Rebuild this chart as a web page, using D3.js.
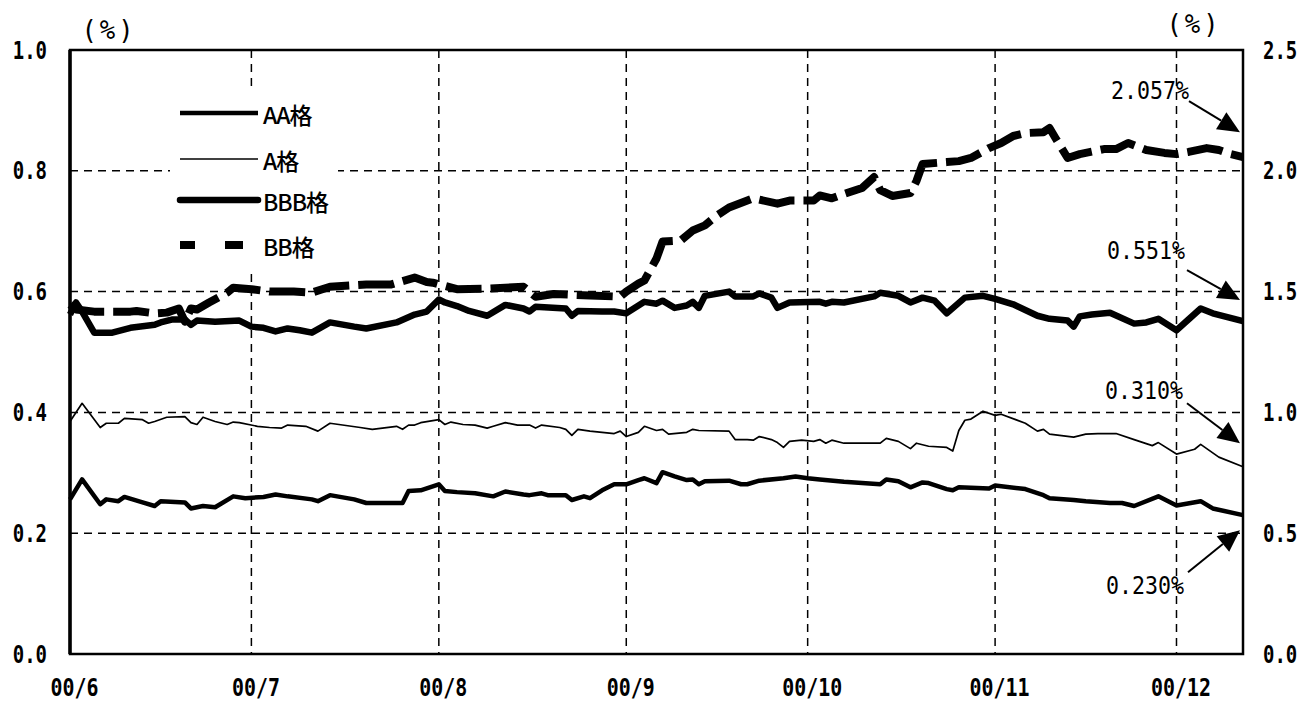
<!DOCTYPE html>
<html>
<head>
<meta charset="utf-8">
<script src="https://cdn.jsdelivr.net/npm/d3@7"></script>
<style>
  body { margin: 0; background: #fff; }
  svg { display: block; }
</style>
</head>
<body>
<svg></svg>
<script>
var seriesNames = ["AA格", "A格", "BBB格", "BB格"];
var leftTicks = [0, 0.2, 0.4, 0.6, 0.8, 1.0];
var rightTicks = [0, 0.5, 1.0, 1.5, 2.0, 2.5];
var dateRange = ["06-01", "12-12"];

// AA, A, BBB on left axis; BB on right axis
var aaSeries = [["06-01",0.256],["06-03",0.289],["06-06",0.248],["06-07",0.256],["06-09",0.253],["06-10",0.260],["06-13",0.251],["06-15",0.245],["06-16",0.253],["06-20",0.251],["06-21",0.241],["06-23",0.245],["06-25",0.243],["06-28",0.261],["06-30",0.258],["07-03",0.260],["07-05",0.264],["07-07",0.261],["07-11",0.256],["07-12",0.253],["07-14",0.263],["07-18",0.256],["07-20",0.250],["07-26",0.250],["07-27",0.270],["07-29",0.271],["08-01",0.281],["08-02",0.270],["08-04",0.268],["08-07",0.266],["08-10",0.261],["08-12",0.269],["08-15",0.264],["08-16",0.263],["08-18",0.266],["08-19",0.263],["08-22",0.263],["08-23",0.255],["08-25",0.261],["08-26",0.258],["08-28",0.271],["08-30",0.281],["09-01",0.281],["09-03",0.288],["09-04",0.291],["09-06",0.283],["09-07",0.301],["09-09",0.294],["09-11",0.288],["09-12",0.289],["09-13",0.281],["09-14",0.286],["09-18",0.287],["09-20",0.281],["09-21",0.281],["09-23",0.287],["09-27",0.291],["09-29",0.294],["10-01",0.291],["10-03",0.289],["10-07",0.285],["10-13",0.281],["10-14",0.289],["10-16",0.286],["10-18",0.276],["10-20",0.284],["10-21",0.283],["10-24",0.273],["10-25",0.271],["10-26",0.276],["10-31",0.274],["11-01",0.279],["11-06",0.273],["11-09",0.263],["11-10",0.258],["11-14",0.255],["11-16",0.253],["11-20",0.250],["11-22",0.250],["11-24",0.245],["11-28",0.261],["12-01",0.246],["12-05",0.253],["12-07",0.241],["12-12",0.230]];

var aSeries = [["06-01",0.385],["06-03",0.415],["06-06",0.375],["06-07",0.382],["06-09",0.382],["06-10",0.390],["06-13",0.388],["06-14",0.382],["06-15",0.385],["06-17",0.392],["06-20",0.393],["06-21",0.383],["06-22",0.380],["06-23",0.392],["06-25",0.385],["06-27",0.380],["06-28",0.384],["06-29",0.383],["07-02",0.377],["07-04",0.375],["07-06",0.374],["07-07",0.379],["07-10",0.377],["07-12",0.369],["07-14",0.382],["07-19",0.375],["07-21",0.372],["07-25",0.377],["07-26",0.372],["07-27",0.379],["07-28",0.379],["07-29",0.383],["08-01",0.388],["08-02",0.380],["08-03",0.384],["08-05",0.380],["08-07",0.379],["08-09",0.374],["08-10",0.377],["08-12",0.383],["08-14",0.379],["08-16",0.379],["08-17",0.374],["08-18",0.379],["08-21",0.375],["08-22",0.372],["08-23",0.362],["08-24",0.372],["08-26",0.369],["08-28",0.367],["08-30",0.365],["08-31",0.369],["09-01",0.360],["09-03",0.367],["09-04",0.377],["09-06",0.370],["09-07",0.372],["09-08",0.364],["09-11",0.367],["09-12",0.372],["09-13",0.370],["09-18",0.369],["09-19",0.355],["09-21",0.355],["09-22",0.354],["09-23",0.360],["09-25",0.355],["09-26",0.350],["09-27",0.342],["09-28",0.352],["09-30",0.354],["10-02",0.352],["10-03",0.355],["10-04",0.349],["10-05",0.354],["10-07",0.349],["10-10",0.349],["10-13",0.349],["10-14",0.357],["10-16",0.352],["10-18",0.340],["10-19",0.349],["10-21",0.344],["10-24",0.342],["10-25",0.336],["10-26",0.370],["10-27",0.387],["10-28",0.389],["10-30",0.402],["11-01",0.395],["11-02",0.397],["11-06",0.382],["11-08",0.369],["11-09",0.372],["11-10",0.364],["11-14",0.359],["11-16",0.364],["11-18",0.365],["11-21",0.365],["11-24",0.355],["11-27",0.345],["11-28",0.350],["12-01",0.331],["12-04",0.339],["12-05",0.347],["12-08",0.326],["12-12",0.310]];

var bbbSeries = [["06-01",0.562],["06-02",0.582],["06-03",0.567],["06-05",0.532],["06-08",0.532],["06-11",0.540],["06-15",0.545],["06-16",0.549],["06-18",0.554],["06-20",0.554],["06-21",0.545],["06-22",0.552],["06-25",0.550],["06-29",0.552],["07-01",0.542],["07-03",0.540],["07-05",0.534],["07-07",0.539],["07-09",0.536],["07-11",0.532],["07-14",0.549],["07-18",0.542],["07-20",0.539],["07-25",0.549],["07-28",0.562],["07-30",0.567],["08-01",0.587],["08-02",0.582],["08-04",0.576],["08-06",0.568],["08-09",0.560],["08-12",0.578],["08-15",0.572],["08-16",0.567],["08-17",0.575],["08-22",0.572],["08-23",0.560],["08-24",0.568],["08-28",0.567],["08-30",0.567],["09-01",0.564],["09-04",0.583],["09-06",0.580],["09-07",0.585],["09-09",0.573],["09-11",0.577],["09-12",0.583],["09-13",0.573],["09-14",0.593],["09-18",0.600],["09-19",0.592],["09-22",0.592],["09-23",0.597],["09-25",0.590],["09-26",0.573],["09-28",0.582],["10-03",0.583],["10-04",0.580],["10-05",0.583],["10-07",0.582],["10-12",0.592],["10-13",0.598],["10-16",0.593],["10-18",0.582],["10-20",0.590],["10-22",0.585],["10-24",0.564],["10-27",0.590],["10-30",0.593],["11-01",0.588],["11-04",0.579],["11-08",0.560],["11-10",0.555],["11-13",0.552],["11-14",0.542],["11-15",0.559],["11-17",0.562],["11-20",0.565],["11-24",0.547],["11-26",0.549],["11-28",0.555],["12-01",0.536],["12-05",0.572],["12-07",0.564],["12-12",0.551]];

var bbSeries = [["06-01",1.446],["06-02",1.426],["06-05",1.417],["06-11",1.417],["06-12",1.420],["06-15",1.410],["06-17",1.413],["06-19",1.430],["06-20",1.376],["06-21",1.430],["06-22",1.426],["06-24",1.455],["06-27",1.496],["06-28",1.516],["07-01",1.510],["07-04",1.500],["07-08",1.500],["07-11",1.496],["07-14",1.520],["07-20",1.529],["07-24",1.529],["07-28",1.558],["07-30",1.540],["07-31",1.537],["08-04",1.510],["08-09",1.512],["08-15",1.520],["08-17",1.479],["08-20",1.490],["08-26",1.484],["08-31",1.479],["09-01",1.500],["09-03",1.533],["09-04",1.546],["09-06",1.637],["09-07",1.707],["09-10",1.711],["09-12",1.753],["09-14",1.774],["09-16",1.815],["09-18",1.848],["09-22",1.886],["09-26",1.864],["09-28",1.877],["10-02",1.877],["10-03",1.898],["10-05",1.886],["10-07",1.904],["10-10",1.929],["10-12",1.974],["10-13",1.920],["10-15",1.896],["10-18",1.908],["10-19",1.958],["10-20",2.028],["10-24",2.036],["10-26",2.040],["10-28",2.053],["10-31",2.094],["11-02",2.115],["11-04",2.144],["11-06",2.156],["11-09",2.160],["11-10",2.177],["11-11",2.135],["11-13",2.053],["11-15",2.069],["11-19",2.090],["11-21",2.090],["11-23",2.115],["11-26",2.086],["11-29",2.074],["12-01",2.069],["12-03",2.078],["12-06",2.094],["12-08",2.086],["12-10",2.069],["12-12",2.057]];

var annoLabels = ["2.057%", "0.551%", "0.310%", "0.230%"];
var annoTips = [0.864, 0.586, 0.349, 0.205];   // left-axis value where each arrow points

var parseDay = d3.timeParse("%Y-%m-%d");
function toDate(s) { return parseDay("2000-" + s); }

var monoFont = "'DejaVu Sans Mono', 'Liberation Mono', monospace";

// narrow the glyphs like the original condensed gothic face
function squeeze(sel, sx) {
  sel.each(function() {
    var t = d3.select(this);
    var x = +t.attr("x") || 0;
    var y = +t.attr("y") || 0;
    t.attr("x", 0).attr("y", 0)
      .attr("transform", "translate(" + x + "," + y + ") scale(" + sx + ",1)");
  });
}

function styleText(sel, size) {
  sel.attr("font-family", monoFont)
    .attr("font-size", size)
    .attr("font-weight", "bold")
    .attr("fill", "#000");
}

function drawChart() {
  var svg_width = 1306;
  var svg_height = 704;
  var margin = { top: 50, right: 63, bottom: 50, left: 70 };
  var width = svg_width - margin.left - margin.right;
  var height = svg_height - margin.top - margin.bottom;

  var svg = d3.select("svg")
    .attr("width", svg_width)
    .attr("height", svg_height);

  svg.append("rect").attr("width", svg_width).attr("height", svg_height).attr("fill", "#fff");

  var group = svg.append("g")
    .attr("transform", "translate(" + margin.left + "," + margin.top + ")");

  var x = d3.scaleTime()
    .domain(dateRange.map(toDate))
    .range([0, width]);
  var y = d3.scaleLinear().domain([0, 1]).range([height, 0]);
  var yR = d3.scaleLinear().domain([0, 2.5]).range([height, 0]);

  var months = x.ticks(d3.timeMonth.every(1));

  // gridlines
  group.append("g").selectAll("line")
    .data(leftTicks.filter(function(d) { return d > 0 && d < 1; }))
    .join("line")
    .attr("x1", 0).attr("x2", width)
    .attr("y1", function(d) { return y(d); })
    .attr("y2", function(d) { return y(d); })
    .attr("stroke", "#000").attr("stroke-width", 1.5)
    .attr("stroke-dasharray", "8,6");

  group.append("g").selectAll("line")
    .data(months.slice(1))
    .join("line")
    .attr("x1", function(d) { return x(d); })
    .attr("x2", function(d) { return x(d); })
    .attr("y1", 0).attr("y2", height)
    .attr("stroke", "#000").attr("stroke-width", 1.5)
    .attr("stroke-dasharray", "8,6");

  // legend box hides the grid behind it
  group.append("rect")
    .attr("x", 100).attr("y", 38)
    .attr("width", 168).attr("height", 180)
    .attr("fill", "#fff");

  var line = d3.line()
    .x(function(d) { return x(toDate(d[0])); })
    .y(function(d) { return y(d[1]); });

  var lineR = d3.line()
    .x(function(d) { return x(toDate(d[0])); })
    .y(function(d) { return yR(d[1]); });

  var styles = [
    { w: 4.5, dash: null },
    { w: 1.7, dash: null },
    { w: 6.5, dash: null },
    { w: 8, dash: "36,9" }
  ];

  var allSeries = [aaSeries, aSeries, bbbSeries];
  allSeries.forEach(function(s, i) {
    group.append("path")
      .datum(s)
      .attr("fill", "none")
      .attr("stroke", "#000")
      .attr("stroke-width", styles[i].w)
      .attr("stroke-linejoin", "round")
      .attr("d", line);
  });

  group.append("path")
    .datum(bbSeries)
    .attr("fill", "none")
    .attr("stroke", "#000")
    .attr("stroke-width", styles[3].w)
    .attr("stroke-linejoin", "round")
    .attr("stroke-dasharray", styles[3].dash)
    .attr("d", lineR);

  // frame
  group.append("rect")
    .attr("width", width).attr("height", height)
    .attr("fill", "none").attr("stroke", "#000").attr("stroke-width", 2.5);
  group.append("line")
    .attr("x1", 0).attr("x2", 0).attr("y1", 0).attr("y2", height)
    .attr("stroke", "#000").attr("stroke-width", 3.5);

  // axes
  var left = group.append("g")
    .call(d3.axisLeft(y).tickValues(leftTicks).tickFormat(d3.format(".1f")).tickSize(0).tickPadding(23));
  left.select(".domain").remove();
  styleText(left.selectAll("text"), 25);
  squeeze(left.selectAll("text"), 0.76);

  var right = group.append("g")
    .attr("transform", "translate(" + width + ",0)")
    .call(d3.axisRight(yR).tickValues(rightTicks).tickFormat(d3.format(".1f")).tickSize(0).tickPadding(20));
  right.select(".domain").remove();
  styleText(right.selectAll("text"), 25);
  squeeze(right.selectAll("text"), 0.76);

  var bottom = group.append("g")
    .attr("transform", "translate(0," + height + ")")
    .call(d3.axisBottom(x).tickValues(months).tickFormat(d3.timeFormat("%y/%-m")).tickSize(0).tickPadding(25));
  bottom.select(".domain").remove();
  styleText(bottom.selectAll("text"), 24);
  bottom.selectAll("text").attr("x", 4);
  squeeze(bottom.selectAll("text"), 0.83);

  // unit labels
  var units = group.append("g");
  units.append("text").attr("x", 39).attr("y", -20).text("(%)");
  units.append("text").attr("x", width - 49).attr("y", -26).text("(%)");
  styleText(units.selectAll("text"), 27);
  units.selectAll("text")
    .attr("font-weight", "normal")
    .attr("letter-spacing", 3)
    .attr("text-anchor", "middle").attr("dominant-baseline", "central");
  squeeze(units.selectAll("text"), 0.95);

  // legend
  var legend = group.append("g").attr("transform", "translate(110,63)");
  seriesNames.forEach(function(name, i) {
    var ly = [0, 46, 87, 132][i];
    legend.append("line")
      .attr("x1", 0).attr("x2", 78)
      .attr("y1", ly).attr("y2", ly)
      .attr("stroke", "#000")
      .attr("stroke-width", styles[i].w)
      .attr("stroke-linecap", i === 2 ? "round" : "butt")
      .attr("stroke-dasharray", i === 3 ? "15,30,18" : null);
    legend.append("text")
      .attr("x", 83).attr("y", ly + 1)
      .attr("dominant-baseline", "central")
      .attr("font-family", "'Noto Sans CJK JP', sans-serif")
      .attr("font-size", 23)
      .attr("font-weight", 500)
      .attr("letter-spacing", -1)
      .text(name);
  });

  // end-value annotations
  var tipX = width - 3;
  var offsets = [
    { tx: -90, ty: -42, lx: -51, ly: -31 },
    { tx: -94, ty: -49, lx: -53, ly: -30 },
    { tx: -96, ty: -53, lx: -53, ly: -40 },
    { tx: -95, ty: 55, lx: -52, ly: 42 }
  ];
  var anno = group.append("g");
  annoLabels.forEach(function(label, i) {
    var ty = y(annoTips[i]);
    var o = offsets[i];
    var sx = tipX + o.lx, sy = ty + o.ly;
    var dx = tipX - sx, dy = ty - sy;
    var len = Math.sqrt(dx * dx + dy * dy);
    var ux = dx / len, uy = dy / len;
    var hl = 22, hw = 10;
    var bx = tipX - ux * hl, by = ty - uy * hl;
    anno.append("line")
      .attr("x1", sx).attr("y1", sy).attr("x2", bx).attr("y2", by)
      .attr("stroke", "#000").attr("stroke-width", 2);
    anno.append("path")
      .attr("d", "M" + tipX + "," + ty +
        "L" + (bx - uy * hw) + "," + (by + ux * hw) +
        "L" + (bx + uy * hw) + "," + (by - ux * hw) + "Z")
      .attr("fill", "#000");
    var t = anno.append("text")
      .attr("x", tipX + o.tx).attr("y", ty + o.ty)
      .attr("text-anchor", "middle")
      .attr("dominant-baseline", "central")
      .text(label);
    styleText(t, 24);
    t.attr("font-weight", "normal");
    squeeze(t, 0.9);
  });
}

drawChart();
</script>
</body>
</html>
